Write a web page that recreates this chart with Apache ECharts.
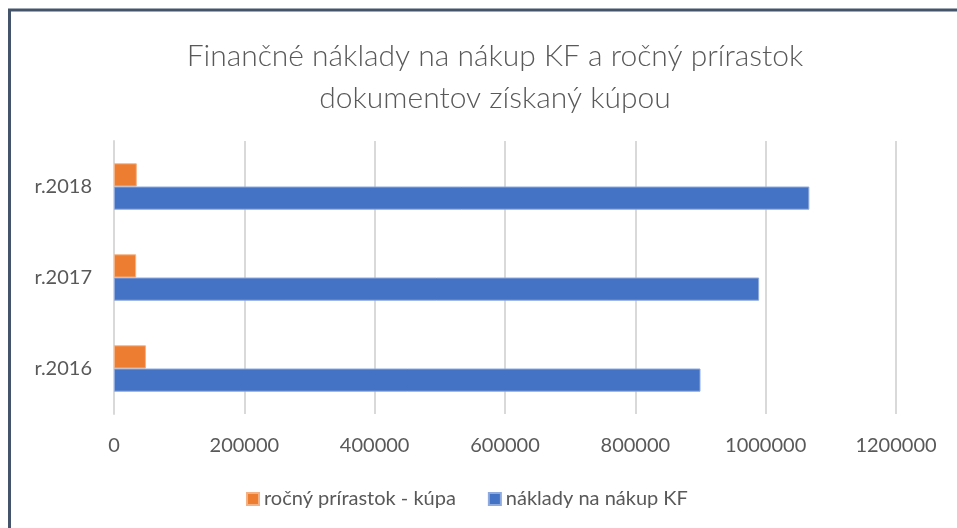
<!DOCTYPE html>
<html>
<head>
<meta charset="utf-8">
<script src="https://cdn.jsdelivr.net/npm/echarts@6/dist/echarts.min.js"></script>
<style>
  html, body { margin: 0; padding: 0; background: #fff; }
  #chart { width: 957px; height: 528px; }
</style>
</head>
<body>
<div id="chart"></div>
<script>
// roky (zdola nahor)
let categories = ['r.2016', 'r.2017', 'r.2018'];
let naklady = [900000, 990000, 1067000];     // náklady na nákup KF
let prirastok = [49000, 34000, 35000];        // ročný prírastok - kúpa
let xTicks = [0, 200000, 400000, 600000, 800000, 1000000, 1200000];

let textColor = '#595959';
let font = 'Lato, "Open Sans", sans-serif';

let myChart = echarts.init(document.getElementById('chart'), null, { renderer: 'canvas' });

let option = {
    backgroundColor: '#ffffff',
    animation: false,
    title: {
        text: 'Finančné náklady na nákup KF a ročný prírastok\ndokumentov získaný kúpou',
        left: 490,
        top: 30,
        textAlign: 'center',
        textStyle: {
            fontFamily: font,
            fontWeight: 300,
            fontSize: 30,
            lineHeight: 42,
            color: textColor
        }
    },
    legend: {
        data: ['ročný prírastok - kúpa', 'náklady na nákup KF'],
        left: 241,
        top: 484,
        itemWidth: 12,
        itemHeight: 12,
        itemGap: 32,
        icon: 'rect',
        textStyle: { fontFamily: font, fontSize: 20, color: textColor }
    },
    grid: {
        left: 114,
        right: 61,
        top: 141,
        bottom: 114,
        containLabel: false
    },
    xAxis: {
        type: 'value',
        min: xTicks[0],
        max: xTicks[xTicks.length - 1],
        interval: xTicks[1] - xTicks[0],
        axisLine: { show: false },
        axisTick: { show: false },
        axisLabel: {
            margin: 22,
            fontFamily: font,
            fontSize: 20,
            color: textColor,
            formatter: function (v) { return String(v); }
        },
        splitLine: { lineStyle: { color: '#d9d9d9', width: 2 } }
    },
    yAxis: {
        type: 'category',
        data: categories,
        axisLine: { show: true, lineStyle: { color: '#d9d9d9', width: 2 } },
        axisTick: { show: false },
        axisLabel: {
            margin: 22,
            fontFamily: font,
            fontSize: 20,
            color: textColor
        }
    },
    series: [
        {
            name: 'ročný prírastok - kúpa',
            type: 'bar',
            data: prirastok,
            barGap: '0%',
            barCategoryGap: '49%',
            itemStyle: { color: '#ed7d31', borderColor: '#f4b183', borderWidth: 1 }
        },
        {
            name: 'náklady na nákup KF',
            type: 'bar',
            data: naklady,
            barGap: '0%',
            barCategoryGap: '49%',
            itemStyle: { color: '#4472c4', borderColor: '#8faadc', borderWidth: 1 }
        }
    ],
    graphic: [
        {
            type: 'rect',
            shape: { x: 9.5, y: 10, width: 1000, height: 600 },
            style: { fill: 'none', stroke: '#44546a', lineWidth: 3 }
        }
    ]
};

myChart.setOption(option);
</script>
</body>
</html>
